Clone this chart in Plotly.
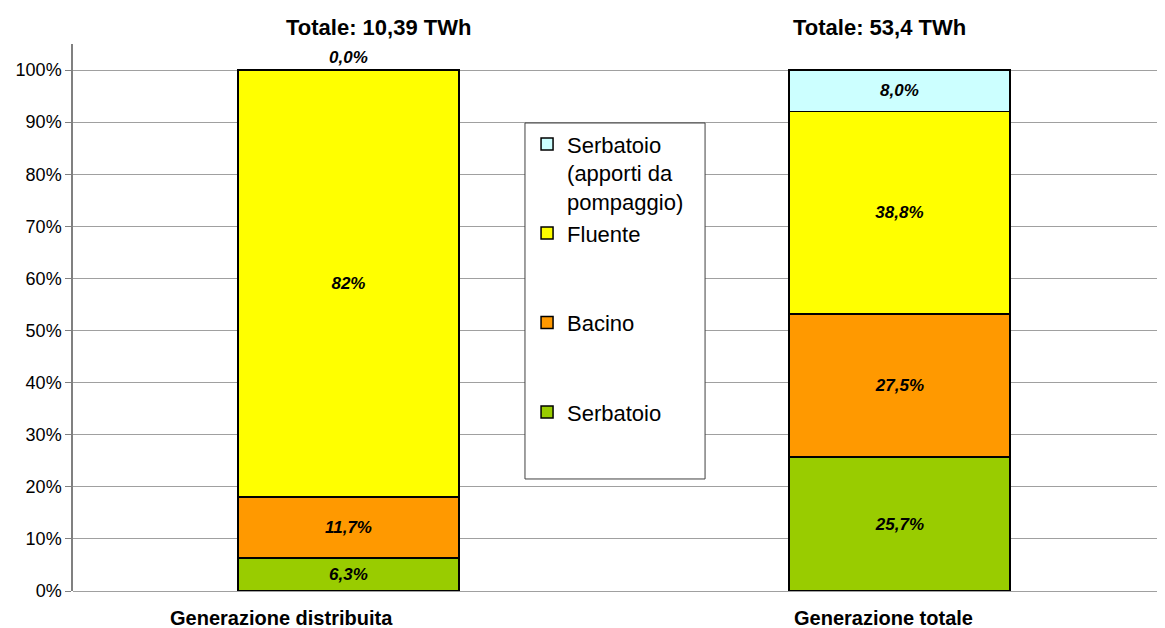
import plotly.graph_objects as go

# dati (quote % della produzione idroelettrica)
categories = ["Generazione distribuita", "Generazione totale"]
totals = ["10,39 TWh", "53,4 TWh"]

serbatoio = [6.3, 25.7]
bacino = [11.7, 27.5]
fluente = [82.0, 38.8]
pompaggio = [0.0, 8.0]

serbatoio_lbl = ["6,3%", "25,7%"]
bacino_lbl = ["11,7%", "27,5%"]
fluente_lbl = ["82%", "38,8%"]
pompaggio_lbl = ["0,0%", "8,0%"]

y_ticks = [0, 10, 20, 30, 40, 50, 60, 70, 80, 90, 100]
y_ticktext = [f"{v}%" for v in y_ticks]

FONT = "Liberation Sans, Arial, sans-serif"
bar_font = dict(family=FONT, size=17, color="black", weight="bold", style="italic")

fig = go.Figure()

series = [
    ("Serbatoio", serbatoio, serbatoio_lbl, "#99CC00", "c", 4, "inside"),
    ("Bacino", bacino, bacino_lbl, "#FF9900", "b", 3, "inside"),
    ("Fluente", fluente, fluente_lbl, "#FFFF00", "a", 2, "inside"),
    ("Serbatoio<br>(apporti da<br>pompaggio)", pompaggio, pompaggio_lbl, "#CCFFFF", "a", 1,
     ["outside", "inside"]),
]

for name, vals, lbl, col, grp, rank, pos in series:
    fig.add_trace(go.Bar(
        x=categories, y=vals, name=name, text=lbl,
        textposition=pos, textfont=bar_font,
        insidetextfont=bar_font, outsidetextfont=bar_font,
        insidetextanchor="middle", cliponaxis=False,
        marker=dict(color=col, line=dict(color="black", width=1.5)),
        width=0.401, legendgroup=grp, legendrank=rank, hoverinfo="x+y+name",
    ))

# titoli sopra le colonne e etichette delle categorie (spostati come nell'originale)
title_shift = [30, -20]
label_shift = [-67, -16]
for cat, tot, ts, ls in zip(categories, totals, title_shift, label_shift):
    fig.add_annotation(x=cat, y=1.031, xref="x", yref="paper", xshift=ts,
                       text="Totale: " + tot, showarrow=False, yanchor="middle",
                       font=dict(family=FONT, size=22, color="black", weight="bold"))
    fig.add_annotation(x=cat, y=-0.0494, xref="x", yref="paper", xshift=ls,
                       text=cat, showarrow=False, yanchor="middle",
                       font=dict(family=FONT, size=20, color="black", weight="bold"))

# riquadro della legenda
fig.add_shape(type="rect", xref="paper", yref="paper",
              x0=0.4139, x1=0.5788, y0=0.2048, y1=0.8556,
              fillcolor="white", line=dict(color="#404040", width=1), layer="above")

# la pagina ha 8px di margine sul body: figura ridotta di 8px
fig.update_layout(
    barmode="stack",
    width=1157, height=620,
    margin=dict(l=65, r=0, t=36, b=37),
    plot_bgcolor="white", paper_bgcolor="white",
    font=dict(family=FONT, color="black"),
    showlegend=True,
    legend=dict(x=0.4158, y=0.855, xanchor="left", yanchor="top",
                traceorder="grouped", tracegroupgap=58, valign="top",
                bgcolor="rgba(0,0,0,0)", borderwidth=0,
                font=dict(family=FONT, size=22, color="black")),
    xaxis=dict(range=[-0.5, 1.482], showgrid=False, showline=False, ticks="",
               showticklabels=False),
    yaxis=dict(range=[0, 105], tickmode="array", tickvals=y_ticks, ticktext=y_ticktext,
               showgrid=True, gridcolor="#A0A0A0", gridwidth=1,
               zeroline=True, zerolinecolor="#A0A0A0", zerolinewidth=1,
               showline=True, linecolor="#808080", linewidth=1.5,
               ticks="outside", ticklen=6, tickcolor="#808080",
               tickfont=dict(family=FONT, size=18, color="black")),
)

fig.write_html("out.html")
